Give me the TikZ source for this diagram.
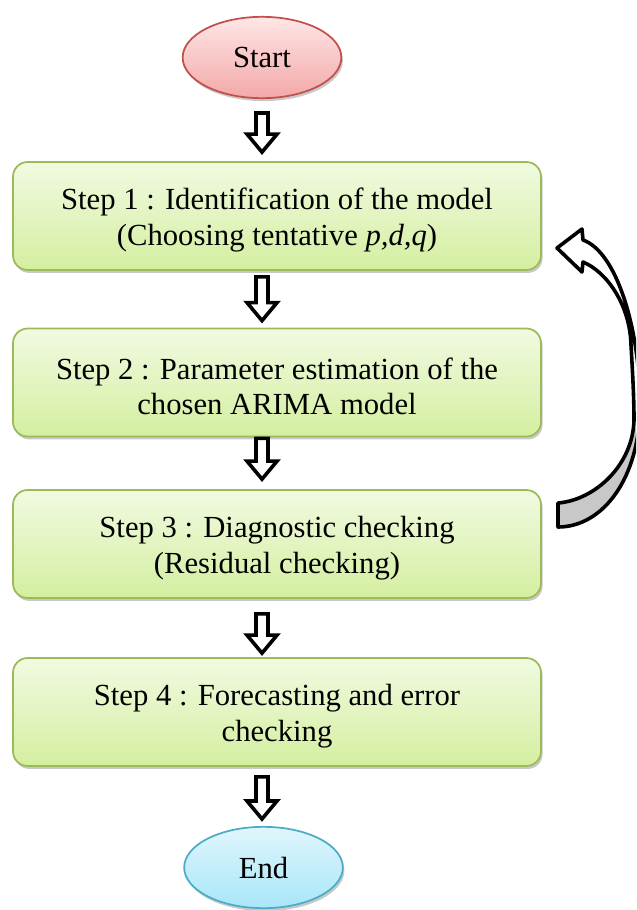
\documentclass[tikz,border=0pt]{standalone}
\usepackage{fontspec}
\setmainfont{Liberation Serif}
\usetikzlibrary{calc,shadows,shapes.geometric}
\definecolor{boxtop}{RGB}{241,250,225}
\definecolor{boxbot}{RGB}{212,239,160}
\definecolor{boxline}{RGB}{155,187,89}
\definecolor{starttop}{RGB}{255,230,230}
\definecolor{startbot}{RGB}{243,168,168}
\definecolor{startline}{RGB}{192,80,77}
\definecolor{endtop}{RGB}{224,246,253}
\definecolor{endbot}{RGB}{168,230,247}
\definecolor{endline}{RGB}{75,172,198}
\definecolor{backgray}{RGB}{200,200,200}
\newcommand\txt{\fontsize{23}{26.5}\selectfont}
\newcommand\blkarrow[4]{%
  \coordinate (bt) at ($(start |- #1.south)+(0,#3)$);
  \coordinate (bb) at ($(start |- #2.north)+(0,-#4)$);
  \coordinate (hb) at ($(bb)+(0,-18)$);
  \draw[blockarrow] ($(bt)+(-6,0)$) -- ($(bt)+(6,0)$) -- ($(hb)+(6,0)$) -- ($(hb)+(15,0)$)
    -- (bb) -- ($(hb)+(-15,0)$) -- ($(hb)+(-6,0)$) -- cycle;}
\begin{document}
\begin{tikzpicture}[x=0.75pt,y=-0.75pt,
  stepbox/.style={draw=boxline, line width=1.3pt, rounded corners=11pt,
    top color=boxtop, bottom color=boxbot, minimum width=396pt, minimum height=81pt,
    inner sep=0pt,
    drop shadow={shadow xshift=1.2pt, shadow yshift=-2.2pt, opacity=0.3, fill=black!70}},
  steptext/.style={align=center, font=\txt, inner sep=0pt},
  endnode/.style={ellipse, line width=1.3pt, minimum width=119pt, minimum height=61pt,
    inner sep=0pt, font=\txt,
    drop shadow={shadow xshift=1.2pt, shadow yshift=-2.2pt, opacity=0.3, fill=black!70}},
  blockarrow/.style={draw=black, fill=white, line width=2.7pt, line join=miter}]
\useasboundingbox (0,0) rectangle (636,910);
\clip (0,0) rectangle (636,910);

\node[endnode, draw=startline, top color=starttop, bottom color=startbot] (start) at (262,57.5) {Start};
\node[stepbox] (s1) at (277,216) {};
\node[stepbox] (s2) at (277,382.5) {};
\node[stepbox] (s3) at (277,544) {};
\node[stepbox] (s4) at (277,712) {};
\node[steptext] (t1) at ($(s1.center)+(0,4)$) {Step 1 : Identification of the model\\(Choosing tentative \textit{p,d,q})};
\node[steptext] (t2) at ($(s2.center)+(0,4)$) {Step 2 : Parameter estimation of the\\chosen ARIMA model};
\node[steptext] (t3) at ($(s3.center)+(0,4)$) {Step 3 : Diagnostic checking\\(Residual checking)};
\node[steptext] (t4) at ($(s4.center)+(0,4)$) {Step 4 : Forecasting and error\\checking};
\node[endnode, draw=endline, top color=endtop, bottom color=endbot] (end) at (263.5,867.5) {End};

\blkarrow{start}{s1}{14}{9}
\blkarrow{s1}{s2}{6}{7}
\blkarrow{s2}{s3}{1}{10}
\blkarrow{s3}{s4}{15}{4}
\blkarrow{s4}{end}{10}{7}

% curved feedback arrow from step 3 back to step 1
\def\curvedpath{(558,527) .. controls (603,527) and (640,478) .. (640,405)
  .. controls (640,330) and (617,252) .. (583,240)
  -- (582,229) -- (557,248) -- (582,272) -- (583,262)
  .. controls (607,272) and (630,305) .. (631,345)
  .. controls (633,380) and (634,400) .. (634,420)
  .. controls (633,465) and (595,500) .. (558,503) -- cycle}
\fill[white] \curvedpath;
\begin{scope}
  \clip (540,428) rectangle (640,540);
  \fill[backgray] \curvedpath;
\end{scope}
\draw[line width=2.7pt, line join=round] \curvedpath;
\end{tikzpicture}
\end{document}
